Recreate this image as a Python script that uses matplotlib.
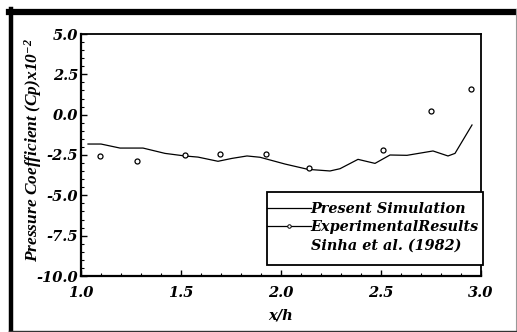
import matplotlib
matplotlib.use("Agg")
import matplotlib.pyplot as plt
from matplotlib.lines import Line2D
from matplotlib.patches import Rectangle
from matplotlib.ticker import MultipleLocator, FormatStrFormatter

# Simulated pressure coefficient along the wall (Cp x 10^-2)
sim_x = [1.035, 1.10, 1.195, 1.31, 1.42, 1.52, 1.585, 1.685, 1.755, 1.83,
         1.895, 2.02, 2.135, 2.245, 2.295, 2.385, 2.47, 2.545, 2.63, 2.76,
         2.835, 2.87, 2.955]
sim_cp = [-1.82, -1.82, -2.07, -2.07, -2.40, -2.56, -2.63, -2.89, -2.71, -2.56,
          -2.64, -3.06, -3.39, -3.49, -3.35, -2.77, -3.02, -2.50, -2.52, -2.25,
          -2.56, -2.40, -0.64]

# Experimental data, Sinha et al. (1982)
exp_x = [1.095, 1.28, 1.52, 1.695, 1.925, 2.14, 2.51, 2.75, 2.95]
exp_cp = [-2.56, -2.87, -2.52, -2.46, -2.42, -3.33, -2.19, 0.25, 1.59]

x_ticks = [1.0, 1.5, 2.0, 2.5, 3.0]
y_ticks = [5.0, 2.5, 0.0, -2.5, -5.0, -7.5, -10.0]

SERIF = "DejaVu Serif"
TIMES = "Liberation Serif"
plt.rcParams["axes.unicode_minus"] = False
plt.rcParams["mathtext.fontset"] = "custom"
plt.rcParams["mathtext.rm"] = TIMES + ":bold:italic"
plt.rcParams["mathtext.it"] = TIMES + ":bold:italic"
plt.rcParams["mathtext.default"] = "rm"

font = dict(family=SERIF, weight="bold", style="italic")
font_t = dict(family=TIMES, weight="bold", style="italic")

W, H = 517, 332
fig = plt.figure(figsize=(W / 100, H / 100), dpi=100)
ax = fig.add_axes([81 / W, 1 - 276 / H, 400 / W, 242 / H])

ax.plot(sim_x, sim_cp, color="black", lw=0.9, label="Present Simulation")
ax.plot(exp_x, exp_cp, ls="none", marker="o", ms=3.6, mfc="white",
        mec="black", mew=0.9)

ax.set_xlim(1.0, 3.0)
ax.set_ylim(-10.0, 5.0)
ax.set_xticks(x_ticks)
ax.set_yticks(y_ticks)
ax.xaxis.set_minor_locator(MultipleLocator(0.1))
ax.yaxis.set_minor_locator(MultipleLocator(0.5))
ax.xaxis.set_major_formatter(FormatStrFormatter("%.1f"))
ax.yaxis.set_major_formatter(FormatStrFormatter("%.1f"))
ax.tick_params(which="both", direction="in", top=False, right=False)
ax.tick_params(which="major", length=4, width=1)
ax.tick_params(which="minor", length=2, width=0.8)
ax.tick_params(axis="y", pad=2)
ax.tick_params(axis="x", pad=7)
for lab in ax.get_xticklabels() + ax.get_yticklabels():
    lab.set(fontsize=10.5, **font)

for side in ("left", "bottom"):
    ax.spines[side].set_linewidth(1.6)
for side in ("top", "right"):
    ax.spines[side].set_linewidth(1.3)

ax.set_xlabel("x/h", fontsize=10.5, labelpad=6, **font)
ax.set_ylabel(r"Pressure Coefficient (Cp)x10$^{-2}$", fontsize=12.5,
              **font_t)
ax.yaxis.set_label_coords(-0.12, 0.52)
ax.yaxis.label.set_verticalalignment("center")

# Legend: box drawn separately so the handles run up to its left edge
ax.add_patch(Rectangle((0.465, 0.045), 0.54, 0.302, transform=ax.transAxes,
                       facecolor="white", edgecolor="black", lw=1.3,
                       clip_on=False, zorder=4))
h_sim = Line2D([], [], color="black", lw=0.9)
h_exp = Line2D([], [], color="black", lw=0.9, marker="o", ms=2.5,
               mfc="white", mec="black", mew=0.7)
h_ref = Line2D([], [], color="none")
leg = ax.legend([h_sim, h_exp, h_ref],
                ["Present Simulation", "ExperimentalResults",
                 "Sinha et al. (1982)"],
                loc="upper left", bbox_to_anchor=(0.466, 0.307),
                prop=dict(size=10.4, **font), frameon=False, borderpad=0.0,
                handlelength=3.0, handletextpad=0.0, labelspacing=0.32,
                borderaxespad=0.0, numpoints=1)
leg.set_zorder(5)

# Outer frame around the figure
fig.add_artist(Line2D([11 / W, 11 / W], [0, 1 - 9 / H], color="black",
                      lw=3.2, transform=fig.transFigure))
fig.add_artist(Line2D([9 / W, 1], [1 - 11.5 / H, 1 - 11.5 / H],
                      color="black", lw=4.5, transform=fig.transFigure))
fig.add_artist(Line2D([1 - 1 / W, 1 - 1 / W], [0, 1 - 9 / H],
                      color="#999999", lw=0.8, transform=fig.transFigure))
fig.add_artist(Line2D([9 / W, 1], [0.6 / H, 0.6 / H], color="#333333",
                      lw=1.0, transform=fig.transFigure))

fig.savefig("out.png", dpi=100)
